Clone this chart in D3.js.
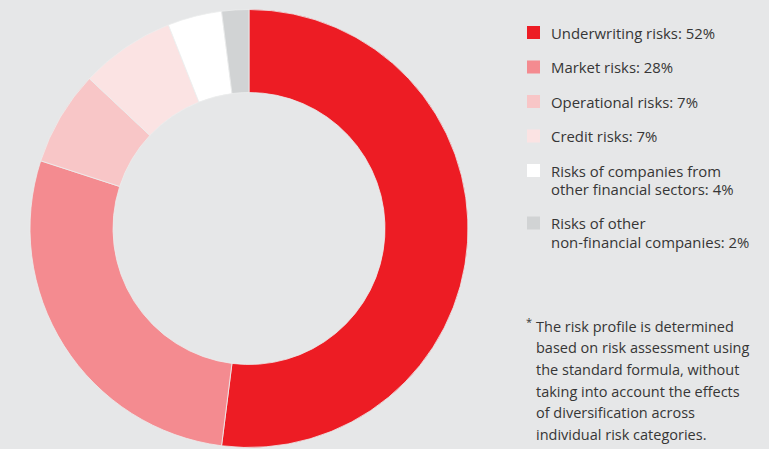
<!DOCTYPE html>
<html>
<head>
<meta charset="utf-8">
<script src="https://cdn.jsdelivr.net/npm/d3@7"></script>
<style>
  body { margin: 0; background: #e6e7e8; }
  svg { display: block; }
  text { font-family: "Open Sans", sans-serif; fill: #363636; }
</style>
</head>
<body>
<div class="chart"></div>
<script>
// risk profile shares, %
const categories = ["Underwriting risks", "Market risks", "Operational risks", "Credit risks",
    "Risks of companies from other financial sectors", "Risks of other non-financial companies"];
const values = [52, 28, 7, 7, 4, 2];
const legendLines = [
    ["Underwriting risks: 52%"],
    ["Market risks: 28%"],
    ["Operational risks: 7%"],
    ["Credit risks: 7%"],
    ["Risks of companies from", "other financial sectors: 4%"],
    ["Risks of other", "non-financial companies: 2%"]
];
const colors = ["#ed1c24", "#f48b90", "#f8c6c7", "#fbe3e3", "#ffffff", "#d1d3d4"];
const footnote = [
    "The risk profile is determined",
    "based on risk assessment using",
    "the standard formula, without",
    "taking into account the effects",
    "of diversification across",
    "individual risk categories."
];

const width = 769, height = 449;
const cx = 249, cy = 228.5, outerR = 219, innerR = 136;

const svg = d3.select(".chart")
    .append("svg")
    .attr("width", width)
    .attr("height", height)
    .attr("viewBox", [0, 0, width, height]);

svg.append("rect")
    .attr("width", width)
    .attr("height", height)
    .attr("fill", "#e6e7e8");

const pie = d3.pie().sort(null).value(d => d);
const arc = d3.arc().innerRadius(innerR).outerRadius(outerR);

svg.append("g")
    .attr("transform", `translate(${cx},${cy})`)
    .selectAll("path")
    .data(pie(values))
    .join("path")
    .attr("d", arc)
    .attr("fill", (d, i) => colors[i])
    .attr("stroke", "#eceded")
    .attr("stroke-width", 0.8);

// legend
const rowY = [26, 60.5, 95, 129.5, 164, 216.5];
const legend = svg.append("g")
    .selectAll("g")
    .data(categories)
    .join("g")
    .attr("transform", (d, i) => `translate(527,${rowY[i]})`);

legend.append("rect")
    .attr("width", 13)
    .attr("height", 13)
    .attr("fill", (d, i) => colors[i]);

legend.each(function(d, i) {
    const g = d3.select(this);
    legendLines[i].forEach((line, j) => {
        g.append("text")
            .attr("x", 24)
            .attr("y", 12.5 + j * 18.5)
            .attr("font-size", 14.9)
            .text(line);
    });
});

// footnote
svg.append("text")
    .attr("x", 526)
    .attr("y", 326)
    .attr("font-size", 11)
    .text("*");

svg.selectAll(".note")
    .data(footnote)
    .join("text")
    .attr("class", "note")
    .attr("x", 536)
    .attr("y", (d, i) => 331.5 + i * 21.7)
    .attr("font-size", 14.5)
    .text(d => d);
</script>
</body>
</html>
